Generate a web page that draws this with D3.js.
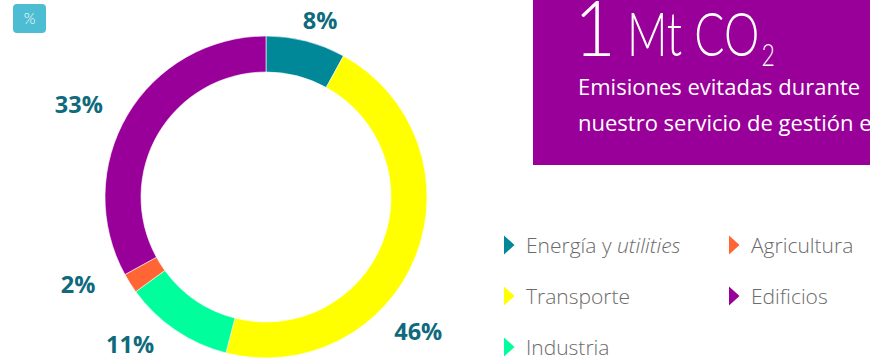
<!DOCTYPE html>
<html>
<head>
<meta charset="utf-8">
<script src="https://cdn.jsdelivr.net/npm/d3@7"></script>
<style>
  html, body { margin: 0; padding: 0; background: #fff; }
  svg { display: block; }
</style>
</head>
<body>
<svg id="chart" width="870" height="359"></svg>
<script>
// Sector shares of avoided emissions (%)
const categories = ["Energía y utilities", "Transporte", "Industria", "Agricultura", "Edificios"];
const values = [8, 46, 11, 2, 33];
const colors = ["#008898", "#ffff00", "#00ff9c", "#ff6633", "#990099"];
const valueLabels = ["8%", "46%", "11%", "2%", "33%"];
// Legend layout: column / row of each entry
const legendCols = [0, 0, 0, 1, 1];
const legendRows = [0, 1, 2, 0, 1];

const svg = d3.select("#chart");

// "%" badge
svg.append("rect").attr("x", 13).attr("y", 4).attr("width", 33).attr("height", 29)
  .attr("rx", 4).attr("fill", "#4dbdd3");
svg.append("text").attr("x", 29.5).attr("y", 24).attr("text-anchor", "middle")
  .attr("font-family", "Lato, 'Open Sans', sans-serif").attr("font-weight", 300)
  .attr("font-size", 15).attr("fill", "#ffffff").text("%");

// Donut
const cx = 266, cy = 197, rOuter = 161, rInner = 125;
const pie = d3.pie().value(d => d).sort(null);
const arc = d3.arc().innerRadius(rInner).outerRadius(rOuter);
const arcs = pie(values);
const g = svg.append("g").attr("transform", `translate(${cx},${cy})`);
g.selectAll("path").data(arcs).join("path")
  .attr("d", arc)
  .attr("fill", (d, i) => colors[i])
  .attr("stroke", "#ffffff").attr("stroke-width", 0.6);

// Percentage labels placed outside the ring: radial distance and
// angular nudge (degrees) from each slice's mid-angle
const labelRadius = [185, 203, 200, 207, 209];
const labelNudge = [2.6, 19.8, 8.6, 7.6, -4.2];
const labelAngle = (d, i) => (d.startAngle + d.endAngle) / 2 + labelNudge[i] * Math.PI / 180;
g.selectAll("text.val").data(arcs).join("text")
  .attr("class", "val")
  .attr("x", (d, i) => Math.sin(labelAngle(d, i)) * labelRadius[i])
  .attr("y", (d, i) => -Math.cos(labelAngle(d, i)) * labelRadius[i])
  .attr("text-anchor", "middle").attr("dominant-baseline", "central")
  .attr("font-family", "'Open Sans', Lato, sans-serif").attr("font-weight", 700)
  .attr("font-size", 23.5).attr("fill", "#0e6a7c")
  .text((d, i) => valueLabels[i]);

// Highlight box
const box = svg.append("g");
box.append("rect").attr("x", 533).attr("y", -2).attr("width", 340).attr("height", 167)
  .attr("fill", "#990099");
box.append("text").attr("transform", "translate(574,56) scale(0.95,1)")
  .attr("font-family", "Lato, sans-serif").attr("font-weight", 300)
  .attr("font-size", 76).attr("fill", "#ffffff").text("1");
const head = box.append("text").attr("transform", "translate(627,56) scale(0.72,1)")
  .attr("font-family", "Lato, sans-serif").attr("font-weight", 300)
  .attr("font-size", 62).attr("fill", "#ffffff");
head.append("tspan").text("Mt CO");
head.append("tspan").attr("font-size", 32).attr("dx", 3).attr("dy", 10).text("2");
box.append("text").attr("x", 578).attr("y", 95)
  .attr("font-family", "'Open Sans', sans-serif").attr("font-weight", 400)
  .attr("font-size", 22).attr("fill", "#ffffff").text("Emisiones evitadas durante");
box.append("text").attr("x", 578).attr("y", 131)
  .attr("font-family", "'Open Sans', sans-serif").attr("font-weight", 400)
  .attr("font-size", 22).attr("fill", "#ffffff").text("nuestro servicio de gestión energética");

// Legend
const colX = [504, 729], rowY = [245, 296, 347];
const leg = svg.append("g").selectAll("g").data(categories).join("g")
  .attr("transform", (d, i) => `translate(${colX[legendCols[i]]},${rowY[legendRows[i]]})`);
leg.append("path").attr("d", "M0,-9.5 L10.5,0 L0,9.5 Z").attr("fill", (d, i) => colors[i]);
const lt = leg.append("text").attr("x", 22).attr("y", 0).attr("dominant-baseline", "central")
  .attr("font-family", "'Open Sans', sans-serif").attr("font-weight", 300)
  .attr("font-size", 21).attr("fill", "#6b6b6b");
lt.each(function(d) {
  const t = d3.select(this);
  if (d.endsWith(" utilities")) {
    t.append("tspan").text(d.replace(" utilities", " "));
    t.append("tspan").attr("font-style", "italic").text("utilities");
  } else {
    t.text(d);
  }
});
</script>
</body>
</html>
